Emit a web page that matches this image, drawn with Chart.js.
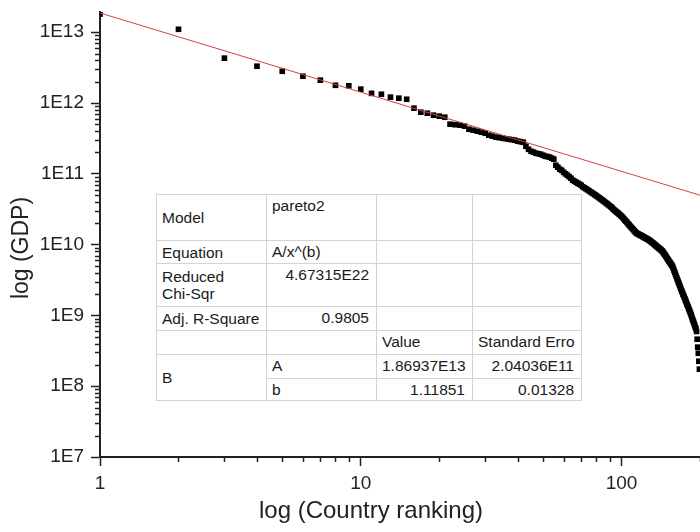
<!DOCTYPE html>
<html>
<head>
<meta charset="utf-8">
<script src="https://cdn.jsdelivr.net/npm/chart.js@4.4.1/dist/chart.umd.min.js"></script>
<style>
    body { margin: 0; background: #fff; }
    #cadre { position: relative; width: 700px; height: 532px; overflow: hidden; }
    #canvasPareto { display: block; }
    #tableFit {
        position: absolute; left: 156px; top: 194px; width: 425px; height: 206px;
        border-collapse: collapse; table-layout: fixed; background: #fff;
        font: 15.5px "Liberation Sans", Arial, sans-serif; color: #1a1a1a;
        border: 1.5px solid #707070;
    }
    #tableFit td { border: 1px solid #d4d4d4; padding: 0 7px 0 5px; white-space: nowrap; overflow: hidden; line-height: 17px; }
    #tableFit td.lib { vertical-align: middle; }
    #tableFit td.haut { vertical-align: top; padding-top: 2px; }
    #tableFit td.num { vertical-align: top; padding-top: 2px; text-align: right; }
</style>
</head>
<body>
<div id="cadre">
    <canvas id="canvasPareto" width="700" height="532"></canvas>
    <table id="tableFit">
        <colgroup><col style="width:110px"><col style="width:110px"><col style="width:96px"><col style="width:109px"></colgroup>
        <tr style="height:46px"><td class="lib">Model</td><td class="haut">pareto2</td><td></td><td></td></tr>
        <tr style="height:23px"><td class="lib">Equation</td><td class="haut">A/x^(b)</td><td></td><td></td></tr>
        <tr style="height:43px"><td class="lib">Reduced<br>Chi-Sqr</td><td class="num">4.67315E22</td><td></td><td></td></tr>
        <tr style="height:23.5px"><td class="lib">Adj. R-Square</td><td class="num">0.9805</td><td></td><td></td></tr>
        <tr style="height:24px"><td></td><td></td><td class="haut">Value</td><td class="haut">Standard Erro</td></tr>
        <tr style="height:24px"><td class="lib" rowspan="2">B</td><td class="haut">A</td><td class="num">1.86937E13</td><td class="num">2.04036E11</td></tr>
        <tr style="height:22.5px"><td class="haut">b</td><td class="num">1.11851</td><td class="num">0.01328</td></tr>
    </table>
</div>
<script>
// rang des pays (axe x)
const rangPays = [
    1, 2, 3, 4, 5, 6, 7, 8, 9, 10, 11, 12, 13, 14, 15, 16, 17, 18, 19, 20,
    21, 22, 23, 24, 25, 26, 27, 28, 29, 30, 31, 32, 33, 34, 35, 36, 37, 38, 39, 40,
    41, 42, 43, 44, 45, 46, 47, 48, 49, 50, 51, 52, 53, 54, 55, 56, 57, 58, 59, 60,
    61, 62, 63, 64, 65, 66, 67, 68, 69, 70, 71, 72, 73, 74, 75, 76, 77, 78, 79, 80,
    81, 82, 83, 84, 85, 86, 87, 88, 89, 90, 91, 92, 93, 94, 95, 96, 97, 98, 99, 100,
    101, 102, 103, 104, 105, 106, 107, 108, 109, 110, 111, 112, 113, 114, 115, 116, 117, 118, 119, 120,
    121, 122, 123, 124, 125, 126, 127, 128, 129, 130, 131, 132, 133, 134, 135, 136, 137, 138, 139, 140,
    141, 142, 143, 144, 145, 146, 147, 148, 149, 150, 151, 152, 153, 154, 155, 156, 157, 158, 159, 160,
    161, 162, 163, 164, 165, 166, 167, 168, 169, 170, 171, 172, 173, 174, 175, 176, 177, 178, 179, 180,
    181, 182, 183, 184, 185, 186, 187, 188, 189, 190, 191, 192, 193, 194, 195, 196, 197, 198, 199
]
// PIB par pays (axe y)
const pibPays = [
    1.80e13, 1.10e13, 4.30e12, 3.31e12, 2.81e12, 2.39e12, 2.10e12, 1.78e12, 1.75e12, 1.57e12,
    1.37e12, 1.33e12, 1.21e12, 1.17e12, 1.13e12, 8.45e11, 7.42e11, 7.18e11, 6.73e11, 6.52e11,
    6.30e11, 5.02e11, 4.94e11, 4.86e11, 4.70e11, 4.26e11, 4.13e11, 4.00e11, 3.87e11, 3.74e11,
    3.51e11, 3.40e11, 3.29e11, 3.24e11, 3.18e11, 3.13e11, 3.08e11, 3.03e11, 2.98e11, 2.89e11,
    2.84e11, 2.79e11, 2.45e11, 2.22e11, 2.08e11, 2.02e11, 1.95e11, 1.92e11, 1.89e11, 1.83e11,
    1.77e11, 1.75e11, 1.72e11, 1.66e11, 1.61e11, 1.32e11, 1.24e11, 1.16e11, 1.12e11, 1.05e11,
    1.00e11, 9.55e10, 9.10e10, 8.66e10, 8.13e10, 7.86e10, 7.60e10, 7.36e10, 7.13e10, 6.90e10,
    6.57e10, 6.36e10, 6.16e10, 5.96e10, 5.77e10, 5.58e10, 5.41e10, 5.24e10, 5.07e10, 4.91e10,
    4.75e10, 4.60e10, 4.45e10, 4.31e10, 4.17e10, 4.04e10, 3.91e10, 3.78e10, 3.66e10, 3.54e10,
    3.43e10, 3.32e10, 3.16e10, 3.06e10, 2.96e10, 2.87e10, 2.78e10, 2.69e10, 2.60e10, 2.52e10,
    2.42e10, 2.32e10, 2.22e10, 2.14e10, 2.06e10, 1.97e10, 1.90e10, 1.82e10, 1.75e10, 1.69e10,
    1.63e10, 1.57e10, 1.51e10, 1.46e10, 1.43e10, 1.41e10, 1.38e10, 1.36e10, 1.34e10, 1.32e10,
    1.29e10, 1.27e10, 1.25e10, 1.23e10, 1.21e10, 1.19e10, 1.17e10, 1.15e10, 1.12e10, 1.10e10,
    1.07e10, 1.05e10, 1.03e10, 1.00e10, 9.77e9, 9.55e9, 9.33e9, 9.12e9, 8.95e9, 8.75e9,
    8.55e9, 8.36e9, 8.17e9, 7.94e9, 7.64e9, 7.35e9, 7.11e9, 6.84e9, 6.58e9, 6.32e9,
    6.10e9, 5.86e9, 5.68e9, 5.47e9, 5.27e9, 5.11e9, 4.91e9, 4.62e9, 4.31e9, 4.06e9,
    3.82e9, 3.59e9, 3.39e9, 3.18e9, 2.99e9, 2.84e9, 2.67e9, 2.52e9, 2.37e9, 2.23e9,
    2.13e9, 2.00e9, 1.91e9, 1.81e9, 1.72e9, 1.62e9, 1.55e9, 1.46e9, 1.39e9, 1.33e9,
    1.25e9, 1.19e9, 1.13e9, 1.07e9, 1.01e9, 9.55e8, 8.95e8, 8.47e8, 8.02e8, 7.59e8,
    7.18e8, 6.79e8, 6.47e8, 5.93e8, 4.61e8, 3.56e8, 2.92e8, 2.25e8, 1.74e8
]
// droite du fit pareto2 (A/x^b) aux deux bouts de l'axe
const fitX = [1, 200]
const fitY = [1.86937e13, 4.99e10]

const xTicks = [1, 10, 100]
const xTicksLabels = ["1", "10", "100"]
const yTicks = [1e7, 1e8, 1e9, 1e10, 1e11, 1e12, 1e13]
const yTicksLabels = ["1E7", "1E8", "1E9", "1E10", "1E11", "1E12", "1E13"]
const titreX = "log (Country ranking)"
const titreY = "log (GDP)"

Chart.defaults.font.family = '"Liberation Sans", Arial, sans-serif'
Chart.defaults.color = "#222"

// petites graduations 2..9 de chaque décade
function graduationsMineures(min, max) {
    let liste = []
    for (let dec = min; dec < max; dec *= 10) {
        for (let m = 2; m <= 9; m++) {
            if (m * dec <= max) liste.push(m * dec)
        }
    }
    return liste
}

// graduations mineures + titres des axes
const pluginAxes = {
    id: "pluginAxes",
    afterDraw(chart) {
        let ctx = chart.ctx
        let sx = chart.scales.x
        let sy = chart.scales.y
        ctx.save()
        ctx.strokeStyle = "#222"
        ctx.lineWidth = 1.5
        ctx.beginPath()
        for (let v of graduationsMineures(1, 200)) {
            let px = Math.round(sx.getPixelForValue(v)) + 0.5
            ctx.moveTo(px, sx.top)
            ctx.lineTo(px, sx.top + 5)
        }
        for (let v of graduationsMineures(1e7, sy.max)) {
            let py = Math.round(sy.getPixelForValue(v)) + 0.5
            ctx.moveTo(sy.right, py)
            ctx.lineTo(sy.right - 5, py)
        }
        ctx.stroke()

        ctx.fillStyle = "#222"
        ctx.textAlign = "center"
        ctx.textBaseline = "middle"
        ctx.font = '24px "Liberation Sans", Arial, sans-serif'
        ctx.fillText(titreX, 371, 511)
        ctx.font = '23px "Liberation Sans", Arial, sans-serif'
        ctx.translate(22, 248)
        ctx.rotate(-Math.PI / 2)
        ctx.fillText(titreY, 0, 0)
        ctx.restore()
    }
}

let points = rangPays.map((r, i) => ({x: r, y: pibPays[i]}))
let ligneFit = fitX.map((x, i) => ({x: x, y: fitY[i]}))

let canvas = document.getElementById("canvasPareto")
new Chart(canvas, {
    type: "scatter",
    data: {
        datasets: [
            {
                label: "pareto2",
                data: ligneFit,
                showLine: true,
                borderColor: "#cc4444",
                borderWidth: 1,
                pointRadius: 0
            },
            {
                label: "GDP",
                data: points,
                pointStyle: "rect",
                pointRadius: 4,
                backgroundColor: "#000",
                borderColor: "#000",
                borderWidth: 0
            }
        ]
    },
    options: {
        responsive: false,
        animation: false,
        devicePixelRatio: 1,
        layout: { autoPadding: false, padding: { top: 12, right: 0, left: 0, bottom: 0 } },
        plugins: {
            legend: { display: false },
            tooltip: { enabled: false }
        },
        scales: {
            x: {
                type: "logarithmic",
                min: 1,
                max: 200,
                afterBuildTicks: (scale) => { scale.ticks = xTicks.map(v => ({value: v})) },
                afterFit: (scale) => { scale.height = 75; scale.paddingLeft = 0; scale.paddingRight = 0 },
                ticks: {
                    autoSkip: false,
                    maxRotation: 0,
                    padding: 6,
                    font: { size: 19 },
                    color: "#222",
                    callback: (v) => xTicksLabels[xTicks.indexOf(v)]
                },
                grid: { drawOnChartArea: false, drawTicks: true, tickLength: 9, tickWidth: 1.5, tickColor: "#222" },
                border: { display: true, color: "#222", width: 2 }
            },
            y: {
                type: "logarithmic",
                min: 1e7,
                max: 1.93e13,
                afterBuildTicks: (scale) => { scale.ticks = yTicks.map(v => ({value: v})) },
                afterFit: (scale) => { scale.width = 100; scale.paddingTop = 0; scale.paddingBottom = 0 },
                ticks: {
                    autoSkip: false,
                    padding: 7,
                    font: { size: 19 },
                    color: "#222",
                    callback: (v) => yTicksLabels[yTicks.indexOf(v)]
                },
                grid: { drawOnChartArea: false, drawTicks: true, tickLength: 9, tickWidth: 1.5, tickColor: "#222" },
                border: { display: true, color: "#222", width: 2 }
            }
        }
    },
    plugins: [pluginAxes]
})
</script>
</body>
</html>
